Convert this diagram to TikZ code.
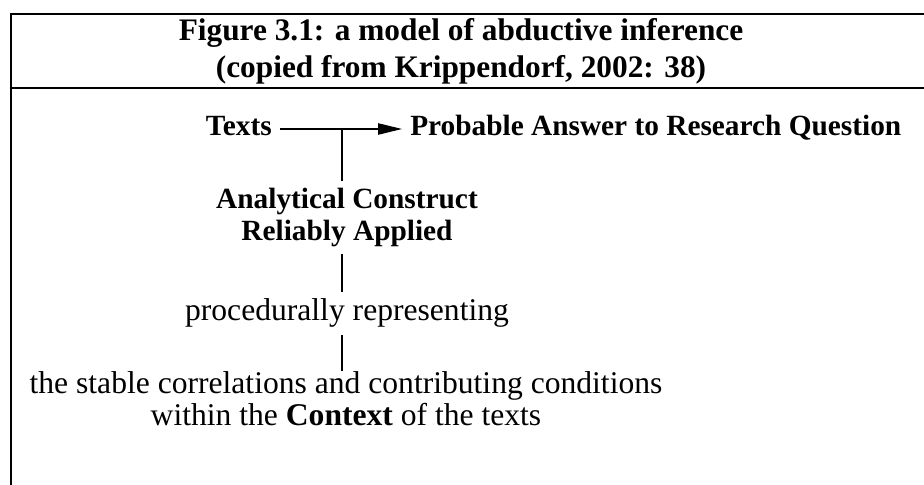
\documentclass[tikz,border=0pt]{standalone}
\usepackage{fontspec}
\setmainfont{Liberation Serif}
\usetikzlibrary{arrows.meta,positioning}

\begin{document}
\begin{tikzpicture}[x=0.75pt,y=-0.75pt,
    frame/.style={line width=1.4pt},
    heading/.style={font=\fontsize{23.5}{27.75}\selectfont\bfseries, align=center, inner sep=0pt},
    term/.style={font=\fontsize{23.7}{24}\selectfont, align=center, inner xsep=0pt, inner ysep=5pt},
    strong/.style={term, font=\fontsize{22}{24}\selectfont\bfseries},
    leg/.style={strong, text height=16pt, text depth=7pt, inner xsep=6pt, inner ysep=0pt},
    link/.style={line width=1pt},
    infer/.style={link, -{Triangle[length=18pt,width=8.5pt]}}]
  \useasboundingbox (0,0) rectangle (924,485);

  % frame and heading rule
  \draw[frame] (924,14) -- (11,14) -- (11,485);
  \draw[frame] (11,88) -- (924,88);

  \node[heading] (title) at (461,51) {Figure 3.1: a model of abductive inference\\(copied from Krippendorf, 2002: 38)};

  % inference from texts to answer
  \node[leg, anchor=base east] (texts) at (280,135) {Texts};
  \node[leg, anchor=base west] (answer) at (402,135) {Probable Answer to Research Question};
  \draw[infer] (texts.east) -- (answer.west);
  \coordinate (fork) at (342,129);

  % the construct and what it stands for
  \node[strong, anchor=north] (construct) at (347,181) {Analytical Construct\\Reliably Applied};
  \node[term, anchor=north] (proc) at (347,292) {procedurally representing};
  \node[term, anchor=north, inner ysep=0pt] (context) at (346,371) {the stable correlations and contributing conditions\\within the {\bfseries Context} of the texts};

  \draw[link] (fork) -- (fork |- construct.north);
  \draw[link] (fork |- construct.south) -- (fork |- proc.north);
  \draw[link] (fork |- proc.south) -- (fork |- context.north);
\end{tikzpicture}
\end{document}
